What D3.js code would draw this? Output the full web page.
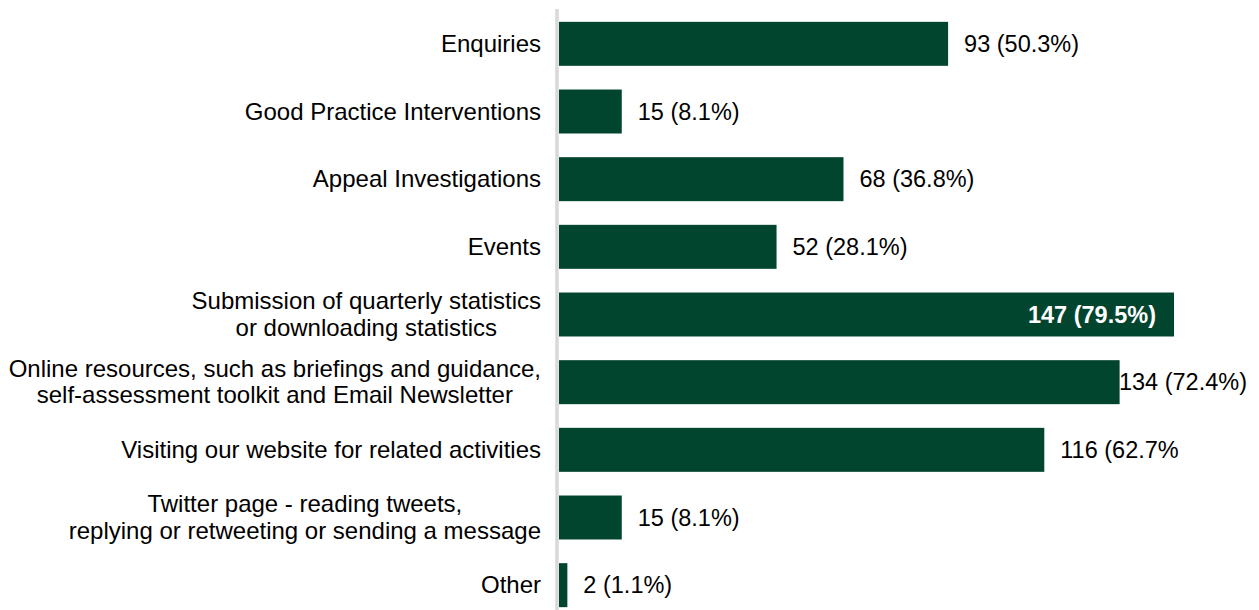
<!DOCTYPE html>
<html>
<head>
<meta charset="utf-8">
<script src="https://cdn.jsdelivr.net/npm/d3@7"></script>
<style>
  html, body { margin: 0; padding: 0; background: #fff; }
  svg { display: block; }
  text { font-family: "Liberation Sans", Arial, sans-serif; }
</style>
</head>
<body>
<svg id="chart" width="1259" height="610"></svg>
<script>
// Category labels (each entry is the list of lines drawn for that row)
const categories = [
  ["Enquiries"],
  ["Good Practice Interventions"],
  ["Appeal Investigations"],
  ["Events"],
  ["Submission of quarterly statistics", "or downloading statistics"],
  ["Online resources, such as briefings and guidance,", "self-assessment toolkit and Email Newsletter"],
  ["Visiting our website for related activities"],
  ["Twitter page - reading tweets,", "replying or retweeting or sending a message"],
  ["Other"]
];
// Number of respondents per activity
const counts = [93, 15, 68, 52, 147, 134, 116, 15, 2];
// Value labels shown next to the bars
const valueLabels = [
  "93 (50.3%)", "15 (8.1%)", "68 (36.8%)", "52 (28.1%)", "147 (79.5%)",
  "134 (72.4%)", "116 (62.7%", "15 (8.1%)", "2 (1.1%)"
];
// Rows whose label sits inside the bar
const insideLabel = [false, false, false, false, true, false, false, false, false];

const W = 1259, H = 610;
const barColor = "#02452f";
const catFont = 24;
const valFont = 23.5;
const labelRight = 541;
const lineGap = 26.5;

const svg = d3.select("#chart");

const idx = d3.range(categories.length);

const y = d3.scaleBand()
  .domain(idx)
  .range([10, 619])
  .paddingInner(0.35)
  .paddingOuter(0.175);

const x = d3.scaleLinear()
  .domain([0, 160])
  .range([559, 559 + 160 * (615 / 147)]);

// Bars
svg.append("g")
  .selectAll("rect")
  .data(idx)
  .join("rect")
  .attr("x", x(0))
  .attr("y", i => y(i))
  .attr("width", i => x(counts[i]) - x(0))
  .attr("height", y.bandwidth())
  .attr("fill", barColor);

// Vertical category axis line
svg.append("line")
  .attr("x1", 557).attr("x2", 557)
  .attr("y1", 9).attr("y2", H)
  .attr("stroke", "#d9d9d9")
  .attr("stroke-width", 3.5);

// Category labels: block right-aligned, lines centred within block
const catG = svg.append("g")
  .attr("font-size", catFont)
  .attr("fill", "#000");

idx.forEach(i => {
  const lines = categories[i];
  const cy = y(i) + y.bandwidth() / 2;
  const t = catG.append("text").attr("text-anchor", "middle");
  const n = lines.length;
  const tspans = lines.map((ln, k) =>
    t.append("tspan")
      .attr("y", cy + 8 + (k - (n - 1) / 2) * lineGap)
      .text(ln)
  );
  const maxW = d3.max(tspans, s => s.node().getComputedTextLength());
  tspans.forEach(s => s.attr("x", labelRight - maxW / 2));
});

// Value labels
const valG = svg.append("g").attr("font-size", valFont);
idx.forEach(i => {
  const end = x(counts[i]);
  const cy = y(i) + y.bandwidth() / 2 + 8;
  if (insideLabel[i]) {
    valG.append("text")
      .attr("x", end - 18)
      .attr("y", cy)
      .attr("text-anchor", "end")
      .attr("font-weight", "bold")
      .attr("fill", "#fff")
      .text(valueLabels[i]);
  } else {
    const t = valG.append("text")
      .attr("y", cy)
      .attr("fill", "#000")
      .text(valueLabels[i]);
    const w = t.node().getComputedTextLength();
    const lx = Math.min(end + 16, W - 12 - w);
    t.attr("x", lx);
  }
});
</script>
</body>
</html>
